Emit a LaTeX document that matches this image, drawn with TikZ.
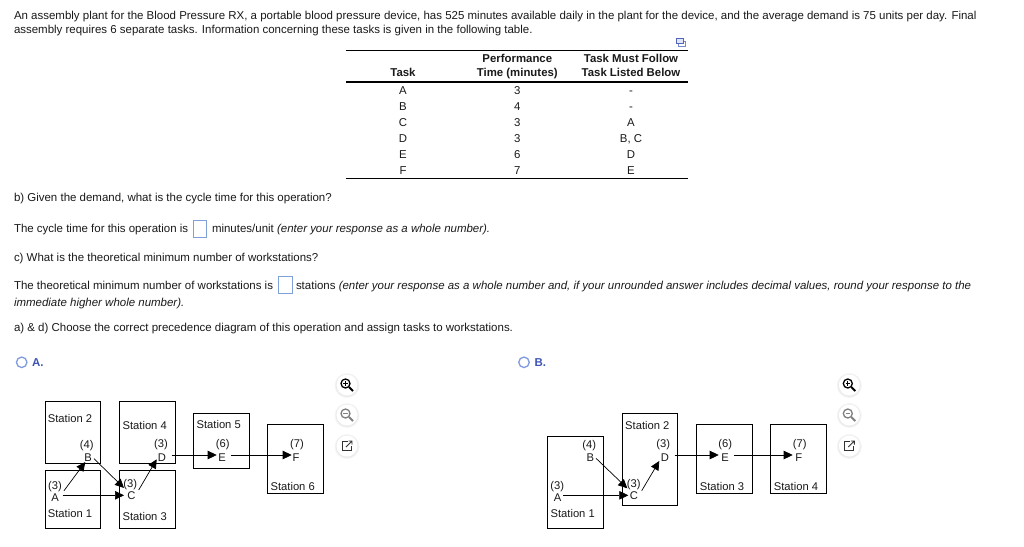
\documentclass[tikz,border=0pt]{standalone}
\usepackage{fontspec}
\setmainfont{Liberation Sans}
\usetikzlibrary{arrows.meta}
\definecolor{txt}{HTML}{1A1A1A}
\definecolor{radio}{HTML}{7F9BE0}
\definecolor{optlabel}{HTML}{3F55B5}
\definecolor{inputblue}{HTML}{7FA0D8}
\tikzset{
  x=1pt,y=-1pt,
  every node/.style={inner sep=0pt,outer sep=0pt,text=txt,font=\fontsize{11.48}{13}\selectfont},
  line/.style={anchor=base west},
  ital/.style={anchor=base west,font=\fontsize{11.48}{13}\selectfont\itshape},
  thead/.style={font=\fontsize{11.4}{13}\selectfont\bfseries,anchor=base},
  tcell/.style={font=\fontsize{11.4}{13}\selectfont,anchor=base},
  rule/.style={draw=black,line width=0.8pt},
  station/.style={draw=black,line width=0.8pt,fill=none},
  lab/.style={font=\fontsize{11.2}{12}\selectfont,anchor=center},
  task/.style={font=\fontsize{11.2}{12}\selectfont,anchor=center},
  flow/.style={draw=black,line width=0.7pt,-{Triangle[length=9pt,width=8.5pt]}},
  inputbox/.style={draw=inputblue,line width=0.8pt,fill=white},
  radiob/.style={draw=radio,line width=1.3pt,fill=white,circle,minimum size=10.5pt},
  optl/.style={font=\fontsize{11.48}{13}\selectfont\bfseries,text=optlabel,anchor=base west},
  halo/.style={fill=black,opacity=0.04,draw=none},
  iconglyph/.style={draw=#1,line width=1pt,fill=none}
}
% zoom-icon buttons
\newcommand{\iconbtn}[2]{%
  \fill[halo] (#1,#2+0.5) circle (12.5);
  \fill[halo] (#1,#2+0.5) circle (11.5);
  \fill[white] (#1,#2) circle (10.5);}
\newcommand{\zoomin}[2]{\iconbtn{#1}{#2}
  \draw[iconglyph=black,line width=1.3pt] (#1-1.5,#2-1.5) circle (4.5);
  \draw[black,line width=2pt] (#1+2,#2+2) -- (#1+6,#2+6);
  \draw[black,line width=.9pt] (#1-3.8,#2-1.5) -- (#1+.8,#2-1.5) (#1-1.5,#2-3.8) -- (#1-1.5,#2+.8);}
\newcommand{\zoomout}[2]{\iconbtn{#1}{#2}
  \draw[iconglyph=gray,line width=1.3pt] (#1-1.5,#2-1.5) circle (4.5);
  \draw[gray,line width=2pt] (#1+2,#2+2) -- (#1+6,#2+6);
  \draw[gray,line width=.9pt] (#1-3.8,#2-1.5) -- (#1+.8,#2-1.5);}
\newcommand{\openbtn}[2]{\iconbtn{#1}{#2}
  \draw[iconglyph=black!80,line width=.9pt] (#1+.5,#2-4.5) -- (#1-4.5,#2-4.5) -- (#1-4.5,#2+4.5) -- (#1+4.5,#2+4.5) -- (#1+4.5,#2-.5);
  \draw[black!80,line width=.9pt] (#1-1,#2+1) -- (#1+5,#2-5) (#1+1.5,#2-5) -- (#1+5,#2-5) -- (#1+5,#2-1.5);}
\begin{document}
\begin{tikzpicture}
\useasboundingbox (0,0) rectangle (1024,546);
\fill[white] (0,0) rectangle (1024,546);

% question text
\node[line] (l1) at (14,19) {An assembly plant for the Blood Pressure RX, a portable blood pressure device, has 525 minutes available daily in the plant for the device, and the average demand is 75 units per day. Final};
\node[line] (l2) at (14,33) {assembly requires 6 separate tasks. Information concerning these tasks is given in the following table.};
\node[line] (qb) at (14,201) {b) Given the demand, what is the cycle time for this operation?};
\node[line] (cy) at (14,232) {The cycle time for this operation is};
\node[inputbox,minimum width=13.5pt,minimum height=17pt] (in1) at (200,228.7) {};
\node[line] (cy2) at (212,232) {minutes/unit \textit{(enter your response as a whole number).}};
\node[line] (qc) at (14,261) {c) What is the theoretical minimum number of workstations?};
\node[line] (th) at (14,289) {The theoretical minimum number of workstations is};
\node[inputbox,minimum width=14pt,minimum height=17pt] (in2) at (285.5,284.8) {};
\node[line] (th2) at (296,289) {stations \textit{(enter your response as a whole number and, if your unrounded answer includes decimal values, round your response to the}};
\node[ital] (th3) at (14,306) {immediate higher whole number).};
\node[line] (qa) at (14,331) {a) \& d) Choose the correct precedence diagram of this operation and assign tasks to workstations.};

% table
\draw[rule] (346,50.5) -- (688,50.5);
\draw[rule,line width=1.8pt] (346,81.7) -- (688,81.7);
\draw[rule] (346,178.5) -- (688,178.5);
\node[thead] (h1) at (403,76.5) {Task};
\node[thead] (h2a) at (517.3,62) {Performance};
\node[thead] (h2b) at (517.3,76.5) {Time (minutes)};
\node[thead] (h3a) at (631,62) {Task Must Follow};
\node[thead] (h3b) at (631,76.5) {Task Listed Below};
\foreach \y/\a/\b/\c in {94/A/3/-,110/B/4/-,126/C/3/A,142/D/3/{B, C},158/E/6/D,174/F/7/E}{
  \node[tcell] at (403,\y) {\a};
  \node[tcell] at (517.3,\y) {\b};
  \node[tcell] at (631,\y) {\c};
}
% copy icon
\draw[draw=optlabel!70,line width=.9pt,fill=white] (678.5,41.5) rectangle (685,46.5);
\draw[draw=optlabel!90,line width=1pt,fill=optlabel!15] (676,38.5) rectangle (683,43.5);

% option A
\node[radiob] (ra) at (21.7,362.3) {};
\node[optl] (la) at (32,366) {A.};
\draw[station] (45,401.3) rectangle (100.7,463.3);
\draw[station] (45,470.3) rectangle (100.7,528.3);
\draw[station] (119.3,401.3) rectangle (175.3,463.3);
\draw[station] (119.3,470.3) rectangle (175.3,528.3);
\draw[station] (193.3,413.3) rectangle (249.7,468.3);
\draw[station] (267.3,424.3) rectangle (323.3,493.3);
\node[lab] at (70,418) {Station 2};
\node[lab] at (70,513.7) {Station 1};
\node[lab] at (144.7,425) {Station 4};
\node[lab] at (144.7,516) {Station 3};
\node[lab] at (218.7,424) {Station 5};
\node[lab] at (292.7,486) {Station 6};
\node[lab] at (86.7,446) {(4)};
\node[lab] at (55,486.7) {(3)};
\node[lab] at (130.3,484.7) {(3)};
\node[lab] at (161,445) {(3)};
\node[lab] at (222.7,445) {(6)};
\node[lab] at (297,445) {(7)};
\node[task] (A1) at (55,498) {A};
\node[task] (B1) at (88,457.3) {B};
\node[task] (C1) at (131.3,496) {C};
\node[task] (D1) at (162,457.3) {D};
\node[task] (E1) at (222,457.3) {E};
\node[task] (F1) at (296,457.3) {F};
\draw[flow] ([shift={(9,-7.3)}]A1.center) -- ([shift={(-2.7,4.7)}]B1.center);
\draw[flow] ([shift={(7.7,-2.7)}]A1.center) -- ([shift={(-7.3,-.7)}]C1.center);
\draw[flow] ([shift={(6,1.4)}]B1.center) -- ([shift={(-7.3,-8)}]C1.center);
\draw[flow] ([shift={(7.4,-6)}]C1.center) -- ([shift={(-5.3,2)}]D1.center);
\draw[flow] ([shift={(9.7,-2.3)}]D1.center) -- ([shift={(-5.3,-2.3)}]E1.center);
\draw[flow] ([shift={(9.3,-2.3)}]E1.center) -- ([shift={(-4.3,-2.3)}]F1.center);

% option B
\node[radiob] (rb) at (524,362.3) {};
\node[optl] (lb) at (534.5,366) {B.};
\draw[station] (547.3,436.3) rectangle (603.7,528.3);
\draw[station] (622,413.3) rectangle (677.7,505.3);
\draw[station] (696.3,424.3) rectangle (752.3,493.7);
\draw[station] (770.3,424.3) rectangle (826.7,493.7);
\node[lab] at (572.7,513.7) {Station 1};
\node[lab] at (647.3,425.3) {Station 2};
\node[lab] at (722,486) {Station 3};
\node[lab] at (796,486) {Station 4};
\node[lab] at (589.3,446) {(4)};
\node[lab] at (557.3,486.7) {(3)};
\node[lab] at (633.7,484.7) {(3)};
\node[lab] at (663.3,445) {(3)};
\node[lab] at (725.3,445) {(6)};
\node[lab] at (799.7,445) {(7)};
\node[task] (A2) at (557.7,498) {A};
\node[task] (B2) at (590.3,457.3) {B};
\node[task] (C2) at (634,496) {C};
\node[task] (D2) at (665,457.3) {D};
\node[task] (E2) at (725,457.3) {E};
\node[task] (F2) at (798.7,457.3) {F};
\draw[flow] ([shift={(5.6,-2.7)}]A2.center) -- ([shift={(-5.7,-.7)}]C2.center);
\draw[flow] ([shift={(5.7,1)}]B2.center) -- ([shift={(-6.7,-7.7)}]C2.center);
\draw[flow] ([shift={(7.7,-5.3)}]C2.center) -- ([shift={(-5.7,3.7)}]D2.center);
\draw[flow] ([shift={(9.7,-2.3)}]D2.center) -- ([shift={(-6.3,-2.3)}]E2.center);
\draw[flow] ([shift={(9,-2.3)}]E2.center) -- ([shift={(-6,-2.3)}]F2.center);

% icon buttons
\zoomin{347}{385}\zoomout{347}{415}\openbtn{347}{446}
\zoomin{849.3}{385}\zoomout{849.3}{415}\openbtn{849.3}{446}
\end{tikzpicture}
\end{document}
